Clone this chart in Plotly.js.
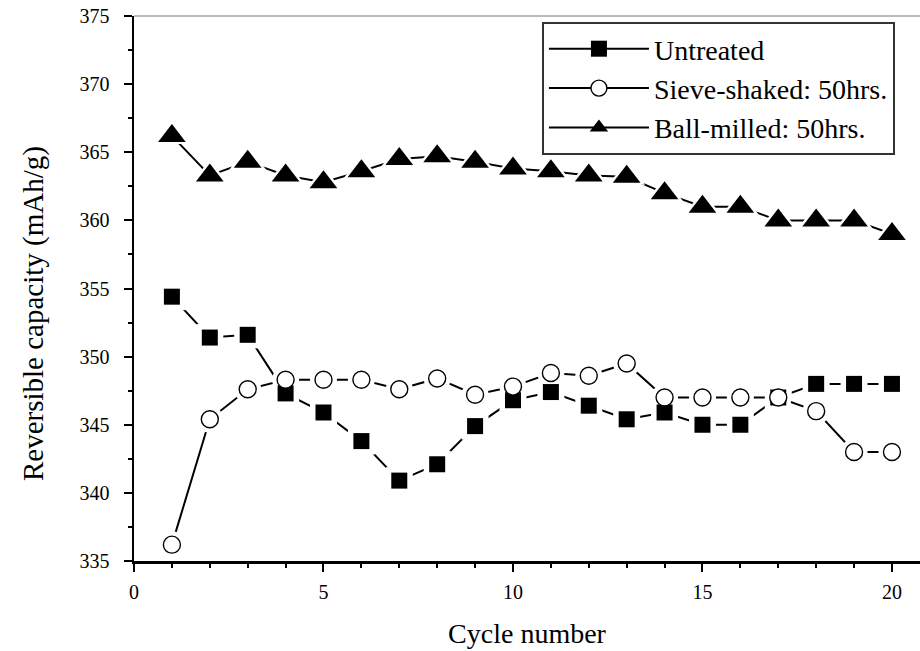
<!DOCTYPE html>
<html>
<head>
<meta charset="utf-8">
<script src="https://cdn.plot.ly/plotly-3.0.1.min.js"></script>
<style>
  html, body { margin: 0; padding: 0; background: #fff; }
  #chart { width: 920px; height: 651px; }
</style>
</head>
<body>
<div id="chart"></div>
<script>
// ---- data ----
const cycles = [1, 2, 3, 4, 5, 6, 7, 8, 9, 10, 11, 12, 13, 14, 15, 16, 17, 18, 19, 20];
const untreated = [354.4, 351.4, 351.6, 347.3, 345.9, 343.8, 340.9, 342.1, 344.9, 346.8,
                   347.4, 346.4, 345.4, 345.9, 345.0, 345.0, 347.0, 348.0, 348.0, 348.0];
const sieveShaked = [336.2, 345.4, 347.6, 348.3, 348.3, 348.3, 347.6, 348.4, 347.2, 347.8,
                     348.8, 348.6, 349.5, 347.0, 347.0, 347.0, 347.0, 346.0, 343.0, 343.0];
const ballMilled = [366.2, 363.3, 364.3, 363.3, 362.8, 363.6, 364.5, 364.7, 364.3, 363.8,
                    363.6, 363.3, 363.2, 362.0, 361.0, 361.0, 360.0, 360.0, 360.0, 359.0];
const seriesNames = ['Untreated', 'Sieve-shaked: 50hrs.', 'Ball-milled: 50hrs.'];
const xTitle = 'Cycle number';
const yTitle = 'Reversible capacity (mAh/g)';

// ---- styles ----
const FONT = 'Liberation Serif';
const markerStyles = [
  { symbol: 'square', size: 16, color: '#000', line: { width: 0 } },
  { symbol: 'circle', size: 17, color: '#fff', line: { color: '#000', width: 1.4 } },
  { symbol: 'triangle-up', size: 24, color: '#000', line: { width: 0 } }
];
const haloSizes = [27, 27, 32];
const seriesY = [untreated, sieveShaked, ballMilled];

const lineTraces = [], haloTraces = [], markTraces = [];
seriesY.forEach((ys, i) => {
  lineTraces.push({
    x: cycles, y: ys, name: seriesNames[i], type: 'scatter', mode: 'lines+markers',
    line: { color: '#000', width: 2 },
    marker: markerStyles[i], showlegend: true, hoverinfo: 'skip'
  });
  haloTraces.push({
    x: cycles, y: ys, type: 'scatter', mode: 'markers', showlegend: false, hoverinfo: 'skip',
    marker: { symbol: markerStyles[i].symbol, size: haloSizes[i], color: '#fff', line: { width: 0 } }
  });
  markTraces.push({
    x: cycles, y: ys, name: seriesNames[i], type: 'scatter', mode: 'markers', showlegend: false,
    marker: markerStyles[i]
  });
});
const data = [];
for (let i = 0; i < 3; i++) { data.push(lineTraces[i]); data.push(haloTraces[i]); }
markTraces.forEach(t => data.push(t));

const tickFont = { family: FONT, size: 20, color: '#000' };
const titleFont = { family: FONT, size: 28, color: '#000' };

const layout = {
  width: 920, height: 651,
  margin: { l: 134, r: 0, t: 16, b: 90 },
  paper_bgcolor: '#fff', plot_bgcolor: '#fff',
  font: { family: FONT, color: '#000', size: 20 },
  showlegend: true,
  legend: {
    x: 0.519, y: 0.989, xanchor: 'left', yanchor: 'top',
    bgcolor: '#fff', bordercolor: '#333', borderwidth: 2,
    font: { family: FONT, size: 28, color: '#000' },
    itemwidth: 100, tracegroupgap: 0
  },
  xaxis: {
    range: [0, 20.74], showgrid: false, zeroline: false,
    showline: true, linecolor: '#000', linewidth: 2.5,
    ticks: 'outside', ticklen: 8, tickwidth: 2, tickcolor: '#000',
    tick0: 0, dtick: 5, ticklabelstandoff: 3,
    minor: { dtick: 1, ticks: 'outside', ticklen: 4, tickwidth: 2, tickcolor: '#000' },
    tickfont: tickFont,
    title: { text: xTitle, font: titleFont, standoff: 22 }
  },
  yaxis: {
    range: [335, 375], showgrid: false, zeroline: false,
    showline: true, linecolor: '#000', linewidth: 2.5,
    ticks: 'outside', ticklen: 8, tickwidth: 2, tickcolor: '#000',
    tick0: 335, dtick: 5, ticklabelstandoff: 10,
    minor: { dtick: 2.5, ticks: 'outside', ticklen: 4, tickwidth: 2, tickcolor: '#000' },
    tickfont: tickFont
  },
  annotations: [
    { text: yTitle, xref: 'paper', yref: 'paper', x: -0.1285, y: 0.455,
      xanchor: 'center', yanchor: 'middle', textangle: -90, showarrow: false,
      font: { family: FONT, size: 29, color: '#000' } }
  ],
  shapes: [
    { type: 'line', xref: 'paper', yref: 'paper', x0: 0, x1: 1, y0: 1, y1: 1,
      line: { color: '#777', width: 1.2 } }
  ]
};

Plotly.newPlot('chart', data, layout, { displayModeBar: false, staticPlot: true });
</script>
</body>
</html>
